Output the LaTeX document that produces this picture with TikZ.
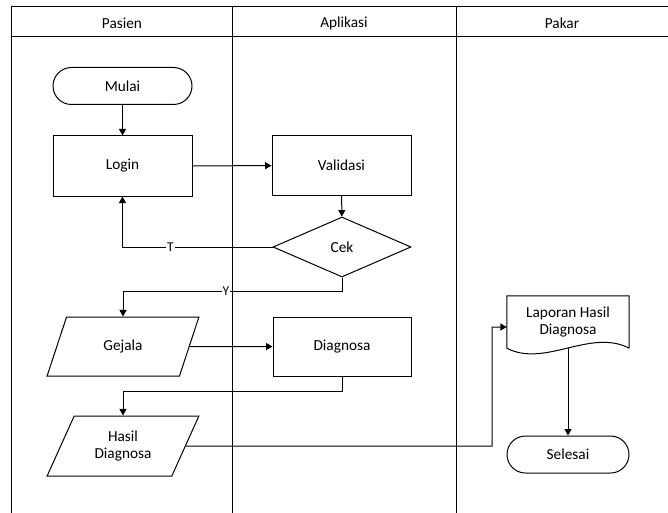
\documentclass[tikz,border=0pt]{standalone}
\usepackage{fontspec}
\setmainfont{Carlito}
\usetikzlibrary{arrows.meta,shapes.geometric,shapes.misc}
\tikzset{
  every node/.style={font=\fontsize{15.3}{17.7}\selectfont},
  proc/.style={draw,rectangle,line width=1pt,minimum width=139pt,minimum height=60pt,inner sep=0pt,align=center},
  term/.style={draw,rectangle,rounded corners=18.5pt,line width=1pt,minimum height=37pt,inner sep=0pt,align=center},
  io/.style={draw,trapezium,trapezium left angle=63,trapezium right angle=117,trapezium stretches=true,line width=1pt,minimum width=152pt,minimum height=59pt,inner sep=0pt,align=center},
  decision/.style={draw,diamond,line width=1pt,minimum width=138pt,minimum height=60pt,inner sep=0pt,aspect=2.3},
  arr/.style={line width=1pt,-{Triangle[length=6.5pt,width=7pt]}},
  lab/.style={fill=white,inner sep=1pt,font=\fontsize{13.5}{15}\selectfont},
  lane/.style={line width=1pt},
  hdr/.style={inner sep=0pt}
}
\begin{document}
\begin{tikzpicture}[x=1pt,y=-1pt]
\useasboundingbox (0,0) rectangle (668,513);
% headers
\node[hdr] (hp) at (122,23) {Pasien};
\node[hdr] (ha) at (344,23) {Aplikasi};
\node[hdr] (hk) at (562,23) {Pakar};
% shapes
\node[term,minimum width=139pt] (mulai) at (122.5,86) {Mulai};
\node[proc] (login) at (122.5,166) {Login};
\node[proc,minimum height=59pt] (valid) at (341.5,165.5) {Validasi};
\node[decision] (cek) at (342,247) {Cek};
\node[io] (gej) at (123,346.5) {Gejala};
\node[proc,minimum width=138pt,minimum height=59pt] (diag) at (342,346.5) {Diagnosa};
\node[io,minimum height=60pt] (hasil) at (123,446) {Hasil\\Diagnosa};
\node[rectangle,inner sep=0pt,minimum width=122pt,minimum height=52pt,align=center] (lap) at (568,322) {Laporan Hasil\\Diagnosa};
\draw[line width=1pt] (lap.south east) -- (lap.north east) -- (lap.north west) -- (lap.south west)
  .. controls (545,368) and (590,328) .. (lap.south east);
\node[term,minimum width=122pt] (sel) at (568,454.5) {Selesai};
% bend coordinates
\coordinate (ybend) at (342,291);
\coordinate (dbend) at (342,391);
\coordinate (hbend) at (492,446);
% connectors
\draw[arr] (mulai) -- (login);
\draw[arr] (login) -- (valid);
\draw[arr] (valid) -- (cek);
\draw[arr] (cek.west) -| node[pos=0.34,lab] {T} (login.south);
\draw[arr] (cek.south) -- (ybend) -| node[pos=0.265,lab] {Y} (gej.north);
\draw[arr] (gej.east) -- (diag.west);
\draw[arr] (diag.south) -- (dbend) -| (hasil.north);
\draw[arr] (hasil.east) -- (hbend) |- ([yshift=-5pt]lap.west);
\draw[arr] (lap.south) -- (sel.north);
% swimlanes
\draw[lane] (668,7) -- (11,7) -- (11,513);
\draw[lane] (11,37) -- (668,37);
\draw[lane] (232,7) -- (232,513);
\draw[lane] (456,7) -- (456,513);
\end{tikzpicture}
\end{document}
